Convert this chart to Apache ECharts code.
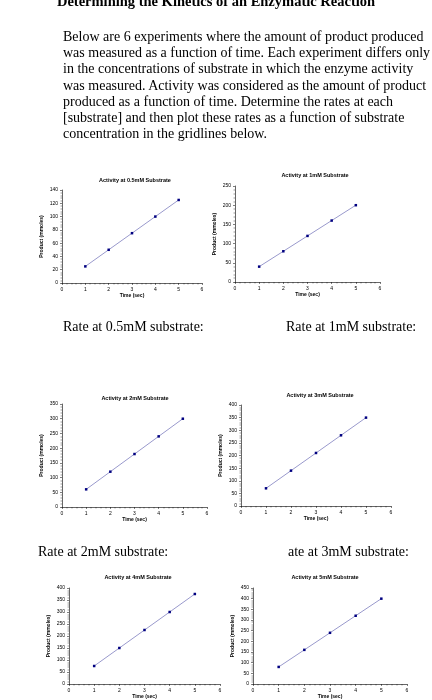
<!DOCTYPE html>
<html><head><meta charset="utf-8">
<script src="https://cdn.jsdelivr.net/npm/echarts@6/dist/echarts.min.js"></script>
<style>
body{margin:0;background:#fff;}
#c{position:absolute;left:0;top:0;width:432px;height:700px;}
.t{position:absolute;font-family:"Liberation Serif",serif;color:#000;white-space:nowrap;}
</style></head><body>
<div id="c"></div>
<div class="t" style="left:0;width:432px;top:-7px;text-align:center;font-weight:bold;font-size:14.5px;">Determining the Kinetics of an Enzymatic Reaction</div>
<div class="t" style="left:63px;top:29px;font-size:14px;line-height:16.2px;">Below are 6 experiments where the amount of product produced<br>was measured as a function of time. Each experiment differs only<br>in the concentrations of substrate in which the enzyme activity<br>was measured. Activity was considered as the amount of product<br>produced as a function of time. Determine the rates at each<br>[substrate] and then plot these rates as a function of substrate<br>concentration in the gridlines below.</div>
<div class="t" style="left:63px;top:319px;font-size:14px;">Rate at 0.5mM substrate:</div>
<div class="t" style="left:286px;top:319px;font-size:14px;">Rate at 1mM substrate:</div>
<div class="t" style="left:38px;top:544px;font-size:14px;">Rate at 2mM substrate:</div>
<div class="t" style="left:288px;top:544px;font-size:14px;">ate at 3mM substrate:</div>
<script>
const times=[1,2,3,4,5];
const titles=["Activity at 0.5mM Substrate","Activity at 1mM Substrate","Activity at 2mM Substrate","Activity at 3mM Substrate","Activity at 4mM Substrate","Activity at 5mM Substrate"];
const s05=[25,50,75,100,125];
const s1=[40,80,120,160,200];
const s2=[60,120,180,240,300];
const s3=[70,140,210,280,350];
const s4=[75,150,225,300,375];
const s5=[80,160,240,320,400];
const series=[s05,s1,s2,s3,s4,s5];
const yMax=[140,250,350,400,400,450];
const yInt=[20,50,50,50,50,50];
const boxes=[
 {l:62,t:190,w:140,h:93,tx:130,ty:172},
 {l:235,t:186,w:145,h:96,tx:310,ty:167},
 {l:62,t:404,w:145,h:103,tx:130,ty:390},
 {l:241,t:405,w:150,h:101,tx:315,ty:387},
 {l:69,t:588,w:151,h:104,tx:133,ty:569},
 {l:253,t:588,w:154,h:104,tx:320,ty:569}
];
const ch=echarts.init(document.getElementById('c'));
const grid=[],xAxis=[],yAxis=[],ser=[],title=[];
const lab={fontSize:5,color:'#000',fontFamily:'Liberation Sans'};
boxes.forEach((b,i)=>{
 grid.push({left:b.l,top:b.t,width:b.w,height:b.h});
 title.push({text:titles[i],left:b.tx,top:b.ty,textAlign:'center',textStyle:{fontSize:5.5,fontWeight:'bold',color:'#000',fontFamily:'Liberation Sans'}});
 const ax={gridIndex:i,axisLine:{show:true,lineStyle:{color:'#000',width:0.6}},axisTick:{show:true,length:2,lineStyle:{color:'#000',width:0.5}},minorTick:{show:true,splitNumber:5,length:1.5,lineStyle:{color:'#000',width:0.4}},splitLine:{show:false},axisLabel:Object.assign({margin:4},lab),nameTextStyle:Object.assign({fontWeight:'bold'},lab)};
 xAxis.push(Object.assign({},ax,{type:'value',min:0,max:6,interval:1,name:'Time (sec)',nameLocation:'middle',nameGap:10}));
 yAxis.push(Object.assign({},ax,{type:'value',min:0,max:yMax[i],interval:yInt[i],name:'Product (mmoles)',nameLocation:'middle',nameGap:18}));
 ser.push({type:'line',xAxisIndex:i,yAxisIndex:i,data:times.map((t,k)=>[t,series[i][k]]),symbol:'rect',symbolSize:2.5,itemStyle:{color:'#000080'},lineStyle:{color:'#9999cc',width:1},animation:false});
});
ch.setOption({animation:false,title,grid,xAxis,yAxis,series:ser});
</script>
</body></html>
